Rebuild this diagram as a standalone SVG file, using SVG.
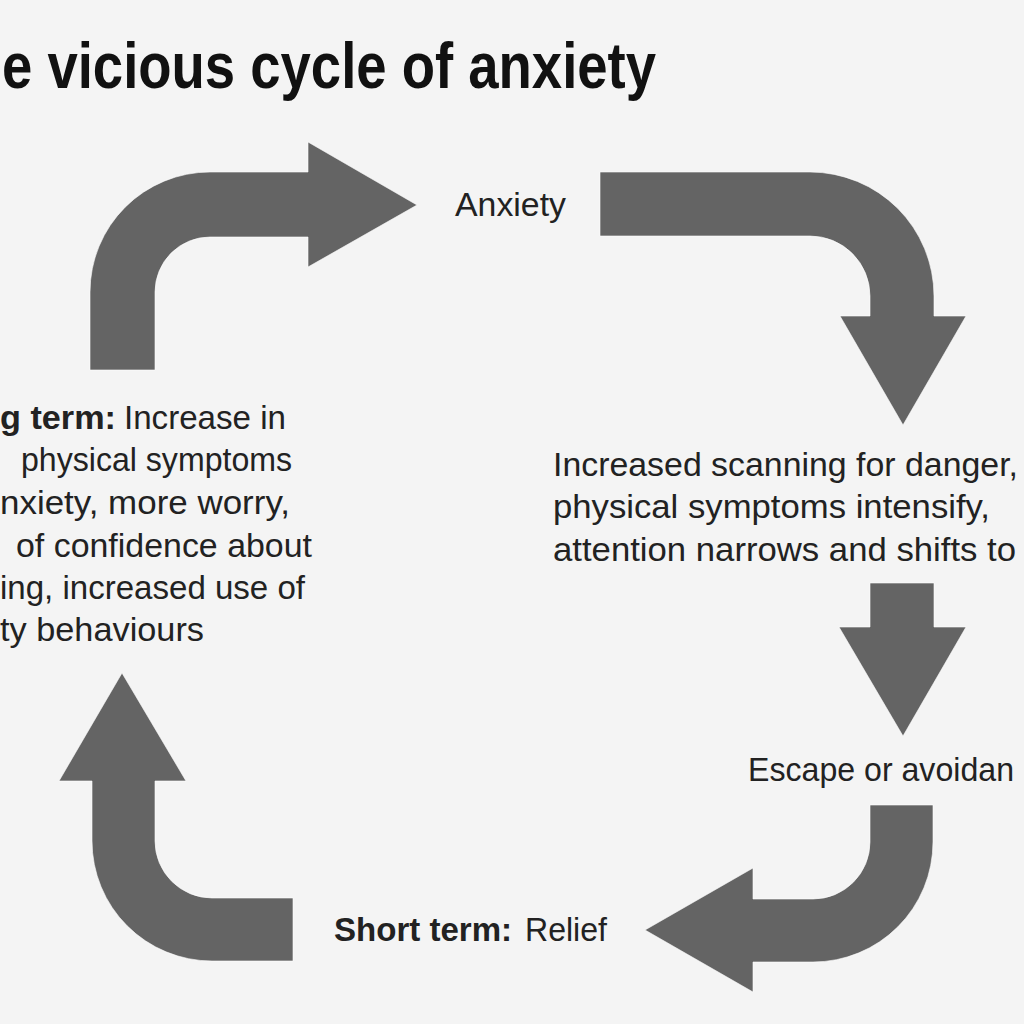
<svg xmlns="http://www.w3.org/2000/svg" width="1024" height="1024" viewBox="0 0 1024 1024">
<style>
.bg{fill:#f4f4f4}
.arrow{fill:#646464;stroke:#ffffff;stroke-width:1;stroke-opacity:0.6}
.t{font-family:"Liberation Sans",Arial,Helvetica,sans-serif;font-size:33px;fill:#222222}
.b{font-weight:bold}
.title{font-family:"Liberation Sans",Arial,Helvetica,sans-serif;font-size:64px;font-weight:bold;fill:#111111}
</style>
<rect class="bg" x="0" y="0" width="1024" height="1024"/>
<g id="title">
<text class="title" x="2" y="88" textLength="654" lengthAdjust="spacingAndGlyphs">e vicious cycle of anxiety</text>
</g>
<g id="connectors">
<path class="arrow" d="M90 370 L90 292 A120 120 0 0 1 210 172 L308 172 L308 142 L417 205 L308 267 L308 237 L210 237 A55 55 0 0 0 155 292 L155 370 Z"/>
<path class="arrow" d="M600 172 L810 172 A124 124 0 0 1 934 296 L934 316 L966 316 L903 425 L840 316 L870 316 L870 296 A60 60 0 0 0 810 236 L600 236 Z"/>
<path class="arrow" d="M870 583 L934 583 L934 627 L966 627 L903 736 L839 627 L870 627 Z"/>
<path class="arrow" d="M870 805 L933 805 L933 842 A120 120 0 0 1 813 962 L753 962 L753 992 L645 930 L753 868 L753 899 L813 899 A57 57 0 0 0 870 842 Z"/>
<path class="arrow" d="M293 898 L212 898 A57 57 0 0 1 155 841 L155 781 L186 781 L122 673 L59 781 L92 781 L92 841 A120 120 0 0 0 212 961 L293 961 Z"/>
</g>
<g id="node-anxiety">
<text class="t" x="455" y="216" textLength="111" lengthAdjust="spacingAndGlyphs">Anxiety</text>
</g>
<g id="node-scanning">
<text class="t" x="553" y="476" textLength="465" lengthAdjust="spacingAndGlyphs">Increased scanning for danger,</text>
<text class="t" x="553" y="518" textLength="437" lengthAdjust="spacingAndGlyphs">physical symptoms intensify,</text>
<text class="t" x="553" y="561" textLength="463" lengthAdjust="spacingAndGlyphs">attention narrows and shifts to</text>
</g>
<g id="node-escape">
<text class="t" x="748" y="781" textLength="266" lengthAdjust="spacingAndGlyphs">Escape or avoidan</text>
</g>
<g id="node-short-term">
<text class="t" y="941"><tspan class="b" x="334" textLength="178" lengthAdjust="spacingAndGlyphs">Short term:</tspan><tspan x="525" textLength="82" lengthAdjust="spacingAndGlyphs">Relief</tspan></text>
</g>
<g id="node-long-term">
<text class="t" y="429"><tspan class="b" x="0" textLength="116" lengthAdjust="spacingAndGlyphs">g term:</tspan><tspan x="124" textLength="162" lengthAdjust="spacingAndGlyphs">Increase in</tspan></text>
<text class="t" x="21" y="471" textLength="271" lengthAdjust="spacingAndGlyphs">physical symptoms</text>
<text class="t" x="0" y="514" textLength="290" lengthAdjust="spacingAndGlyphs">nxiety, more worry,</text>
<text class="t" x="16" y="557" textLength="296" lengthAdjust="spacingAndGlyphs">of confidence about</text>
<text class="t" x="0" y="599" textLength="305" lengthAdjust="spacingAndGlyphs">ing, increased use of</text>
<text class="t" x="0" y="641" textLength="204" lengthAdjust="spacingAndGlyphs">ty behaviours</text>
</g>
</svg>
